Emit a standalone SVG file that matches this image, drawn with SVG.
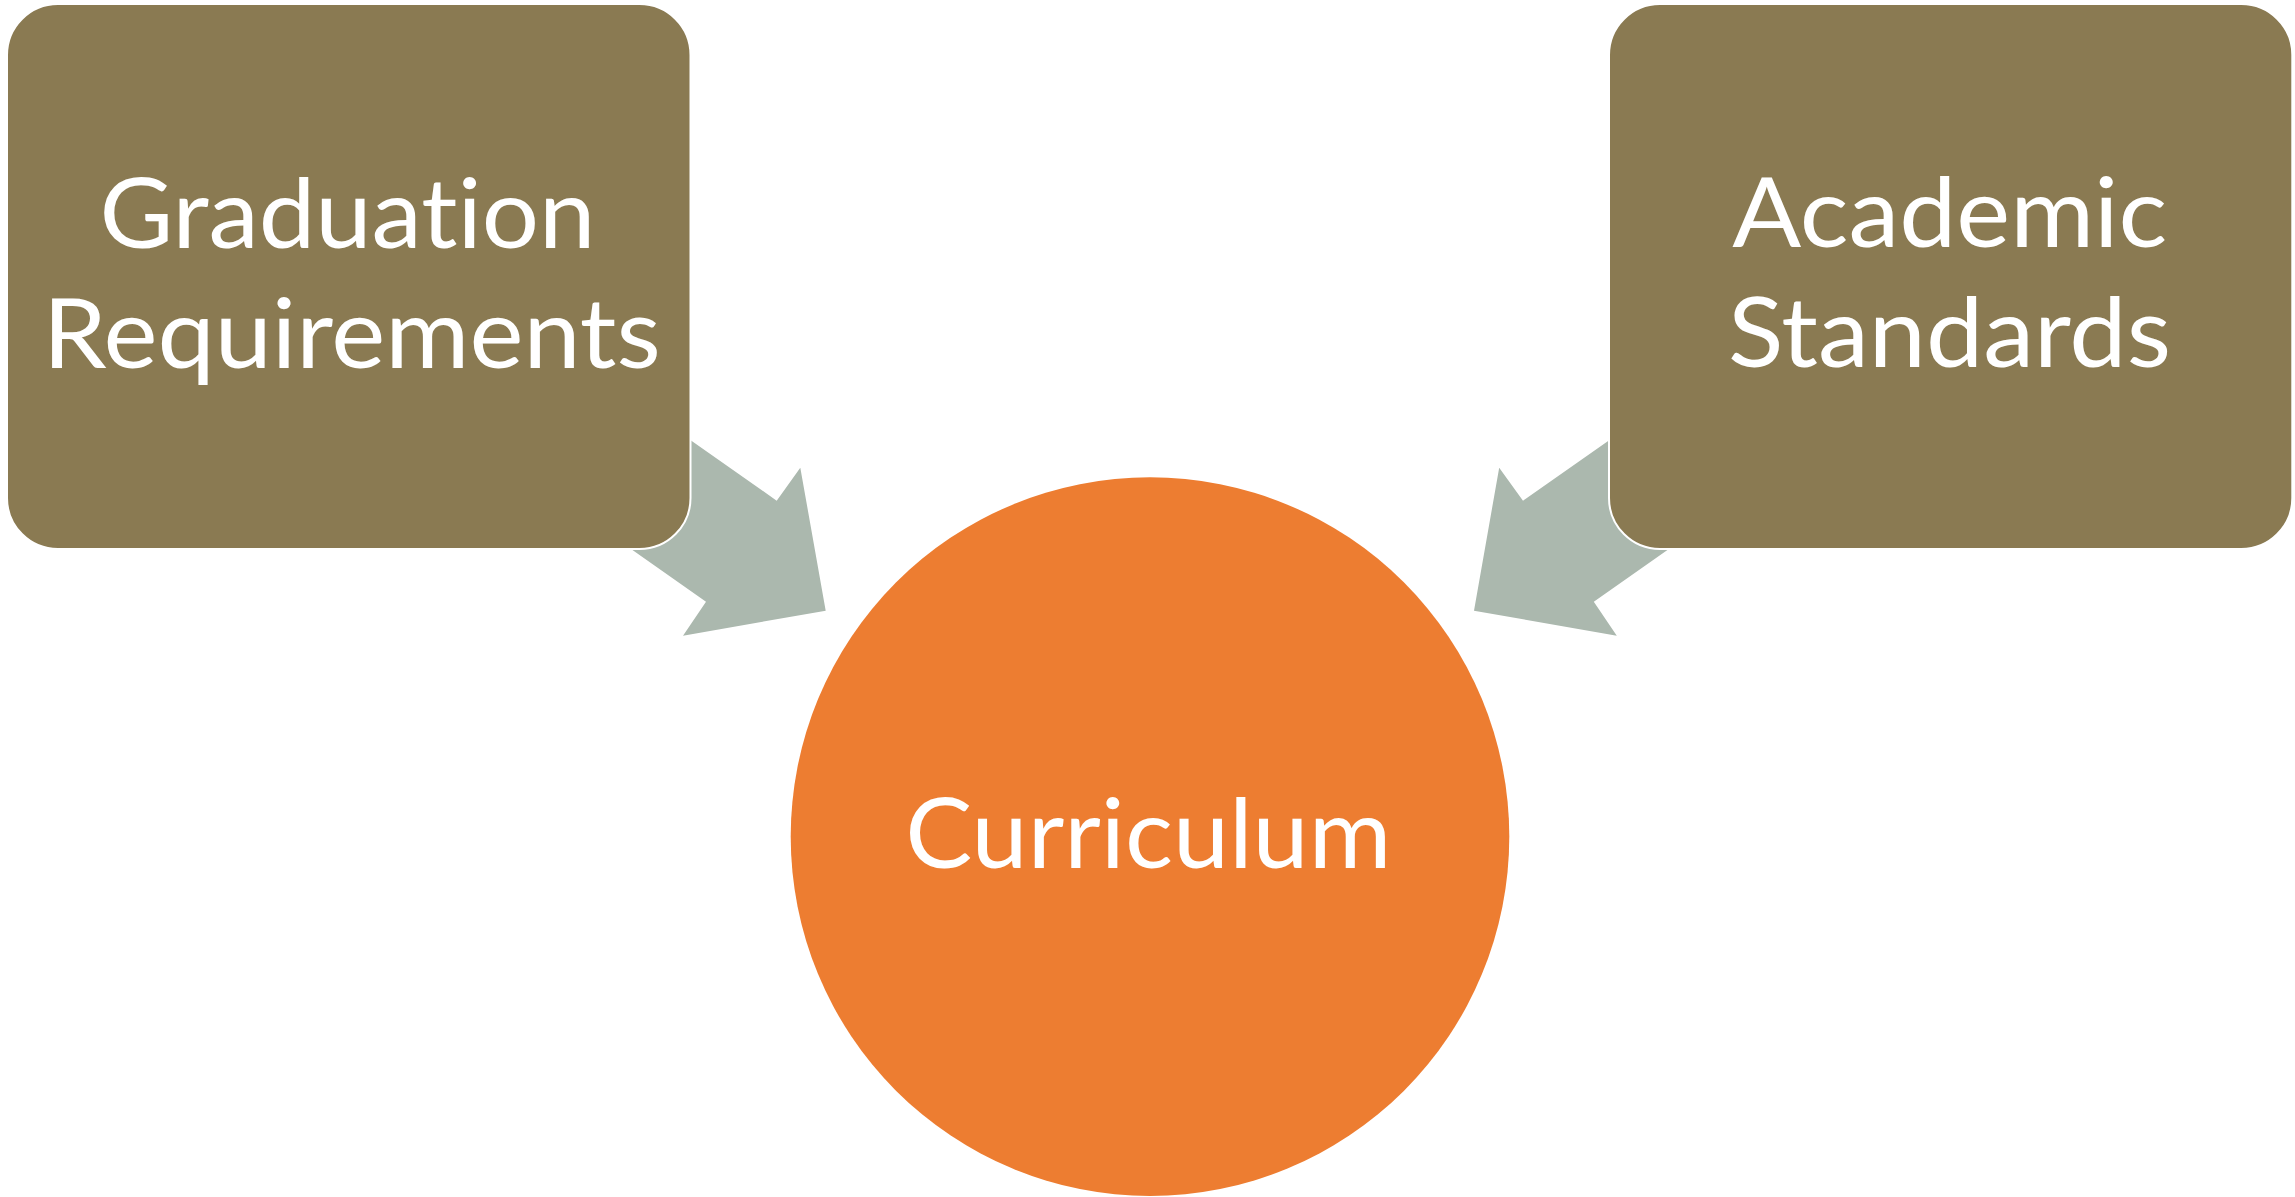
<svg xmlns="http://www.w3.org/2000/svg" width="2295" height="1197" viewBox="0 0 2295 1197">
  <style>
    .box { fill: #8A7A52; stroke: #FFFFFF; stroke-width: 2; }
    .arrow { fill: #ABB8AE; }
    .hub { fill: #ED7D31; }
    .lbl { font-family: Lato, "Open Sans", "Liberation Sans", sans-serif; font-size: 96px; fill: #FFFFFF; text-anchor: middle; font-variant-ligatures: none; font-feature-settings: "liga" 0, "clig" 0; }
  </style>
  <rect width="2295" height="1197" fill="#FFFFFF"/>
  <g id="connectors">
    <polygon class="arrow" points="596,373.7 776.7,500.7 800.3,467.7 825.7,610.7 683,635.7 706,601.7 525.1,474.5"/>
    <polygon class="arrow" points="1704,373.7 1523,500.7 1499.2,467.7 1474,610.7 1616.8,635.7 1593.8,601.7 1774.9,474.5"/>
  </g>
  <g id="node-graduation">
    <rect class="box" x="7" y="4" width="683.5" height="545" rx="51" ry="51"/>
    <text class="lbl" x="347.4" y="248" textLength="496" lengthAdjust="spacingAndGlyphs">Graduation</text>
    <text class="lbl" x="351.7" y="368" textLength="618" lengthAdjust="spacingAndGlyphs">Requirements</text>
  </g>
  <g id="node-academic">
    <rect class="box" x="1609" y="4" width="683.3" height="545" rx="51" ry="51"/>
    <text class="lbl" x="1949.7" y="247" textLength="435" lengthAdjust="spacingAndGlyphs">Academic</text>
    <text class="lbl" x="1949.5" y="367" textLength="443" lengthAdjust="spacingAndGlyphs">Standards</text>
  </g>
  <g id="node-curriculum">
    <circle class="hub" cx="1150" cy="836.6" r="359.3"/>
    <text class="lbl" x="1148.3" y="868" textLength="486" lengthAdjust="spacingAndGlyphs">Curriculum</text>
  </g>
</svg>
